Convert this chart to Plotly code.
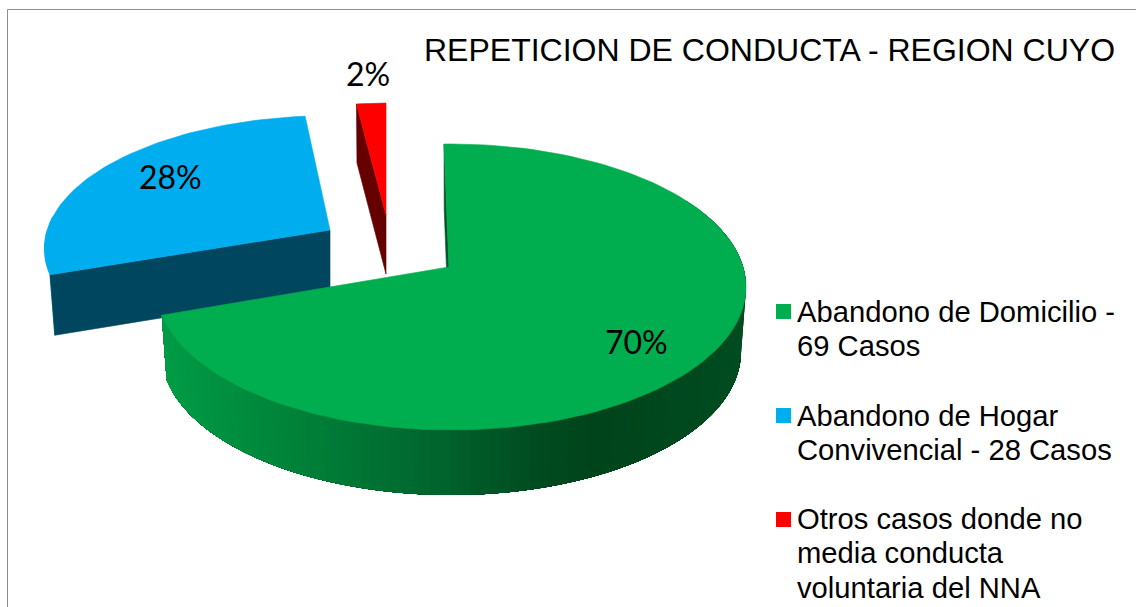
import math
import plotly.graph_objects as go

# ---- data ----
categories = ["Abandono de Domicilio - 69 Casos",
              "Abandono de Hogar Convivencial - 28 Casos",
              "Otros casos donde no media conducta voluntaria del NNA"]
values = [69, 28, 2]
title_text = "REPETICION DE CONDUCTA - REGION CUYO"
legend_lines = [["Abandono de Domicilio -", "69 Casos"],
                ["Abandono de Hogar", "Convivencial - 28 Casos"],
                ["Otros casos donde no", "media conducta", "voluntaria del NNA"]]

# ---- style ----
top_colors = ["#00AD4F", "#00AEEF", "#FF0000"]
cut_colors = ["#00552A", "#00465F", "#660000"]
ARIAL = "Liberation Sans, Arial, sans-serif"
LABEL = "Lato, sans-serif"

# ---- 3D projection of the disc ----
CX, CY, RX, RY = 451, 287, 295, 143
CXB, CYB, RXB, RYB = 451, 352, 290, 143
PU, PV = -0.007, 0.14
AX, AY = CX + RX * PU, CY - RY * PV


def rim(theta, bottom=False):
    a = math.radians(theta)
    d0, d1 = math.sin(a), math.cos(a)
    pd = PU * d0 + PV * d1
    t = -pd + math.sqrt(pd * pd - PU * PU - PV * PV + 1)
    u, v = PU + t * d0, PV + t * d1
    if bottom:
        return CXB + RXB * u, CYB - RYB * v
    return CX + RX * u, CY - RY * v


def apex(bottom=False):
    if bottom:
        return CXB + RXB * PU, CYB - RYB * PV
    return AX, AY


def frange(a, b, n):
    return [a + (b - a) * i / n for i in range(n + 1)]


fig = go.Figure()


def poly(points, color, transform, edge=0.6):
    pts = [transform(p) for p in points]
    pts.append(pts[0])
    fig.add_trace(go.Scatter(x=[p[0] for p in pts], y=[p[1] for p in pts],
                             mode="lines", fill="toself", fillcolor=color,
                             line=dict(color=color, width=edge),
                             hoverinfo="skip", showlegend=False))


def make_transform(ax, ay, sx, sy):
    return lambda p: (ax + sx * (p[0] - AX), ay + sy * (p[1] - AY))


def mix(stops, x):
    if x <= stops[0][0]:
        c = stops[0][1]
    elif x >= stops[-1][0]:
        c = stops[-1][1]
    else:
        c = stops[-1][1]
        for (x0, c0), (x1, c1) in zip(stops, stops[1:]):
            if x <= x1:
                f = (x - x0) / (x1 - x0)
                c = tuple(c0[i] + f * (c1[i] - c0[i]) for i in range(3))
                break
    return "rgb(%d,%d,%d)" % tuple(c)


total = sum(values)
angles = [0]
for val in values:
    angles.append(angles[-1] + 360 * val / total)

green_start, green_end = angles[0] - 1.1, angles[1]
blue_start, blue_end = angles[1], angles[2] + 1.5
red_start, red_end = angles[2], angles[3]

# Blue slice (exploded)
tb = make_transform(330, 230, 0.975, 0.93)
outer = frange(blue_start, blue_start + 25, 12)
poly([rim(a) for a in outer] + [rim(blue_start, True)], "#009FD9", tb)
poly([apex(), rim(blue_start), rim(blue_start, True), apex(True)], cut_colors[1], tb)
poly([apex()] + [rim(a) for a in frange(blue_start, blue_end, 60)], top_colors[1], tb)

# Red slice (exploded)
tr = make_transform(386, 215, 0.92, 0.91)
poly([apex(), rim(red_start), rim(red_start, True), apex(True)], cut_colors[2], tr)
poly([apex()] + [rim(a) for a in frange(red_start, red_end, 6)], top_colors[2], tr)

# Green slice: the side wall is painted from right to left in shrinking bands
tg = make_transform(AX, AY, 1, 1)
poly([apex(), rim(green_start), rim(green_start, True), apex(True)], cut_colors[0], tg)
stops = [(165, (0, 156, 70)), (259, (0, 138, 61)), (418, (0, 106, 48)),
         (537, (0, 77, 34)), (596, (0, 68, 28)), (740, (0, 76, 33))]
seq = frange(60, green_end, 110)
for i in range(len(seq) - 1):
    a0 = seq[i]
    color = mix(stops, rim(a0)[0])
    band = frange(a0, green_end, 40)
    poly([rim(a) for a in band] + [rim(a, True) for a in reversed(band)], color, tg, edge=0)
poly([apex()] + [rim(a) for a in frange(green_start, green_end, 140)], top_colors[0], tg)

# Legend swatches
fig.add_trace(go.Scatter(x=[783.5] * 3, y=[311.5, 415.5, 519.5], mode="markers",
                         marker=dict(symbol="square", size=15, color=top_colors,
                                     line=dict(width=0)),
                         text=categories, hoverinfo="text", showlegend=False))

annotations = []


def note(text, x, y, font, size, anchor="center"):
    annotations.append(dict(text=text, x=x, y=y, xref="x", yref="y", showarrow=False,
                            xanchor=anchor, yanchor="middle",
                            font=dict(family=font, size=size, color="#000000")))


note(title_text, 769, 50, ARIAL, 32)
for val, (x, y) in zip(values, [(636, 341), (170, 176), (368, 73)]):
    note(f"{round(100 * val / total)}%", x, y, LABEL, 32)

line_y = [[312, 346], [416, 450], [519, 553, 588]]
for lines, ys in zip(legend_lines, line_y):
    for line, y in zip(lines, ys):
        note(line, 795, y, ARIAL, 29.2, "left")

fig.update_layout(
    width=1136, height=607, margin=dict(l=0, r=0, t=0, b=0),
    paper_bgcolor="white", plot_bgcolor="white", showlegend=False,
    xaxis=dict(range=[0, 1136], visible=False, fixedrange=True),
    yaxis=dict(range=[607, 0], visible=False, fixedrange=True),
    annotations=annotations,
    shapes=[dict(type="line", xref="x", yref="y", x0=7.5, x1=7.5, y0=9.5, y1=607,
                 line=dict(color="#8E8E8E", width=1)),
            dict(type="line", xref="x", yref="y", x0=7.5, x1=1136, y0=9.5, y1=9.5,
                 line=dict(color="#8E8E8E", width=1))],
)

fig.write_html("out.html", config=dict(displayModeBar=False),
               post_script="document.body.style.margin='0';document.body.style.overflow='hidden';")
